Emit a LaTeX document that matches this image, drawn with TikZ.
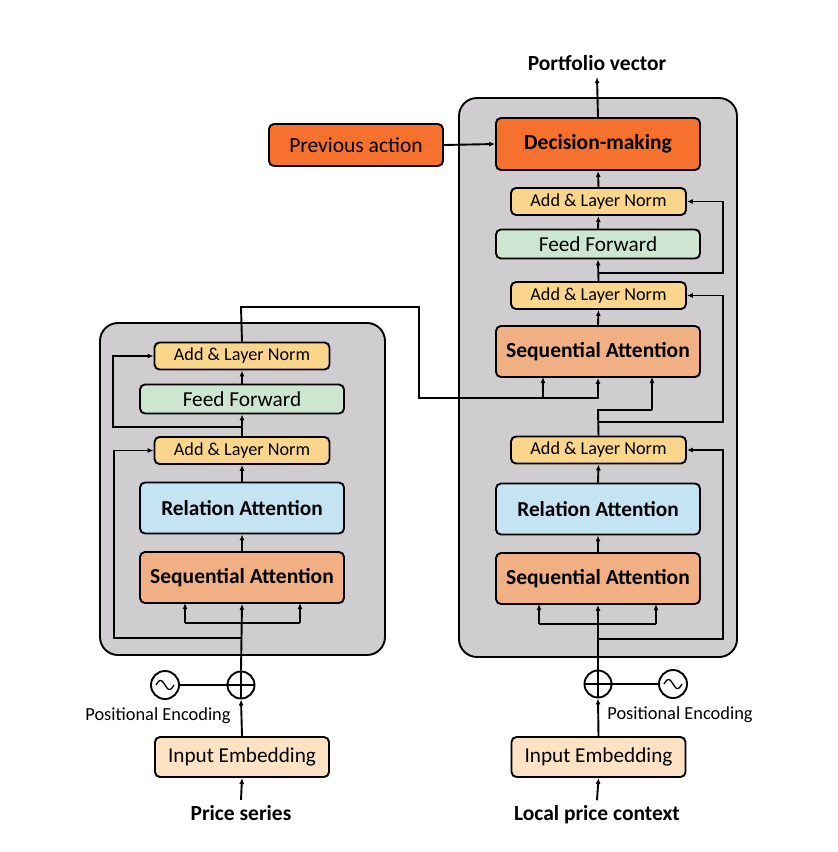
\documentclass[tikz,border=0pt]{standalone}
\usepackage{fontspec}
\setmainfont{Carlito}
\usetikzlibrary{arrows.meta,calc}

\definecolor{panelgray}{RGB}{207,205,207}
\definecolor{normfill}{RGB}{250,214,140}
\definecolor{fffill}{RGB}{205,230,210}
\definecolor{relfill}{RGB}{196,228,244}
\definecolor{seqfill}{RGB}{240,176,131}
\definecolor{decfill}{RGB}{246,113,45}
\definecolor{embfill}{RGB}{253,227,196}

\tikzset{
  wire/.style={line width=1.9pt},
  arr/.style={wire,-{Latex[length=6pt,width=5pt]}},
  panel/.style={draw,line width=1.9pt,fill=panelgray,rounded corners=18pt},
  blk/.style={draw,line width=1.9pt,rounded corners=5pt,inner sep=0pt,align=center},
  normbox/.style={blk,fill=normfill,minimum width=175pt,minimum height=27pt,font=\fontsize{18.2}{20}\selectfont},
  ffbox/.style={blk,fill=fffill,minimum width=204pt,minimum height=29pt,font=\fontsize{21.3}{23}\selectfont},
  relbox/.style={blk,fill=relfill,minimum width=204pt,minimum height=51pt,font=\bfseries\fontsize{21.3}{23}\selectfont},
  seqbox/.style={blk,fill=seqfill,minimum width=204pt,minimum height=51pt,font=\bfseries\fontsize{21.5}{23}\selectfont},
  embbox/.style={blk,fill=embfill,minimum width=174pt,minimum height=40pt,font=\fontsize{21.2}{23}\selectfont},
  decbox/.style={blk,fill=decfill,font=\fontsize{21.5}{23}\selectfont},
  pluscirc/.style={draw,circle,line width=1.9pt,minimum size=27pt,inner sep=0pt},
  sincirc/.style={draw,circle,line width=1.9pt,minimum size=28pt,inner sep=0pt,fill=white},
  biglabel/.style={font=\bfseries\fontsize{21.5}{23}\selectfont},
  smalllabel/.style={font=\fontsize{18.4}{20}\selectfont}
}

\begin{document}
\begin{tikzpicture}[x=1pt,y=-1pt]
\useasboundingbox (0,0) rectangle (838,852);

% encoder and decoder panels
\draw[panel] (100,323) rectangle (385,655);
\draw[panel] (459,98) rectangle (737,657);

% ---------------- left stack ----------------
\node[normbox] (addLb) at (242,356) {Add \& Layer Norm};
\node[ffbox]   (ffL)   at (242,399) {Feed Forward};
\node[normbox] (addLa) at (242,450.5) {Add \& Layer Norm};
\node[relbox]  (relL)  at (242,508) {Relation Attention};
\node[seqbox]  (seqL)  at (242,577.5) {Sequential Attention};

\node[embbox] (embL) at (242,757) {Input Embedding};
\node[pluscirc] (plusL) at (241,685) {};
\node[sincirc] (sinL) at (165,685) {};
\node[smalllabel] (peL) at (158,716) {Positional Encoding};
\node[biglabel] (srcL) at (241,813) {Price series};

% ---------------- right stack ----------------
\node[decbox,font=\bfseries\fontsize{21.5}{23}\selectfont,minimum width=204pt,minimum height=52pt] (dec) at (598,144) {Decision-making};
\node[normbox] (addRc) at (598.5,201.5) {Add \& Layer Norm};
\node[ffbox]   (ffR)   at (598,244) {Feed Forward};
\node[normbox] (addRb) at (598.5,295.5) {Add \& Layer Norm};
\node[seqbox]  (seqRb) at (598,351.5) {Sequential Attention};
\node[normbox] (addRa) at (598.5,450) {Add \& Layer Norm};
\node[relbox]  (relR)  at (598,509) {Relation Attention};
\node[seqbox]  (seqRa) at (598,578.5) {Sequential Attention};

\node[embbox] (embR) at (598.5,757) {Input Embedding};
\node[pluscirc] (plusR) at (598,684) {};
\node[sincirc] (sinR) at (673,684) {};
\node[smalllabel] (peR) at (680,715) {Positional Encoding};
\node[biglabel] (srcR) at (597,815) {Local price context};

\node[decbox,minimum width=174pt,minimum height=42pt] (prev) at (356,145) {Previous action};
\node[biglabel] (out) at (597,63) {Portfolio vector};

% plus signs and sine waves
\foreach \p in {plusL,plusR}{
  \draw[wire] (\p.north) -- (\p.south);
  \draw[wire] (\p.west) -- (\p.east);
}
\foreach \s in {sinL,sinR}{
  \draw[line width=1.3pt,shift={(\s.center)}] plot[domain=-9:9,samples=40,smooth] (\x,{4.5*sin(\x*20)});
}
\draw[wire] (sinL.east) -- (plusL.west);
\draw[wire] (plusR.east) -- (sinR.west);

% ---------------- left connectors ----------------
\coordinate (lres)  at (241,638);
\coordinate (lmid)  at (241,427);
\coordinate (lout)  at (241,307);

\draw[arr] ([yshift=2pt]srcL.north) -- (embL.south);
\draw[arr] (embL.north) -- (plusL.south);
\draw[arr] (plusL.north) -- (seqL.south);
\draw[wire] (185,623) -- (300,623);
\draw[arr] (185,623) -- (185,603);
\draw[arr] (300,623) -- (300,603);
\draw[arr] (lres) -- (114,638) -- (114,450.5) -- (addLa.west);
\draw[arr] (seqL.north) -- (relL.south);
\draw[arr] (relL.north) -- (addLa.south);
\draw[arr] (addLa.north) -- (ffL.south);
\draw[arr] (lmid) -- (113,427) -- (113,356) -- (addLb.west);
\draw[arr] (ffL.north) -- (addLb.south);

% encoder output into the upper sequential attention
\draw[arr] (addLb.north) -- (lout) -- (419,307) -- (419,398) -- (598,398) -- (seqRb.south);
\draw[arr] (543,398) -- (543,377);

% ---------------- right connectors ----------------
\draw[arr] ([yshift=2pt]srcR.north) -- (embR.south);
\draw[arr] (embR.north) -- (plusR.south);
\draw[arr] (plusR.north) -- (seqRa.south);
\draw[wire] (539,624) -- (656,624);
\draw[arr] (539,624) -- (539,604);
\draw[arr] (656,624) -- (656,604);
\draw[arr] (598,639) -- (723,639) -- (723,450) -- (addRa.east);
\draw[arr] (seqRa.north) -- (relR.south);
\draw[arr] (relR.north) -- (addRa.south);
\draw[wire] (addRa.north) -- (598,410) -- (652,410);
\draw[arr] (652,410) -- (652,377);
\draw[arr] (598,422) -- (723,422) -- (723,295.5) -- (addRb.east);
\draw[arr] (seqRb.north) -- (addRb.south);
\draw[arr] (addRb.north) -- (ffR.south);
\draw[arr] (598,273) -- (723,273) -- (723,201.5) -- (addRc.east);
\draw[arr] (ffR.north) -- (addRc.south);
\draw[arr] (addRc.north) -- (dec.south);
\draw[arr] (dec.north) -- ([yshift=-3pt]out.south);
\draw[arr] (prev.east) -- (dec.west);

\end{tikzpicture}
\end{document}
